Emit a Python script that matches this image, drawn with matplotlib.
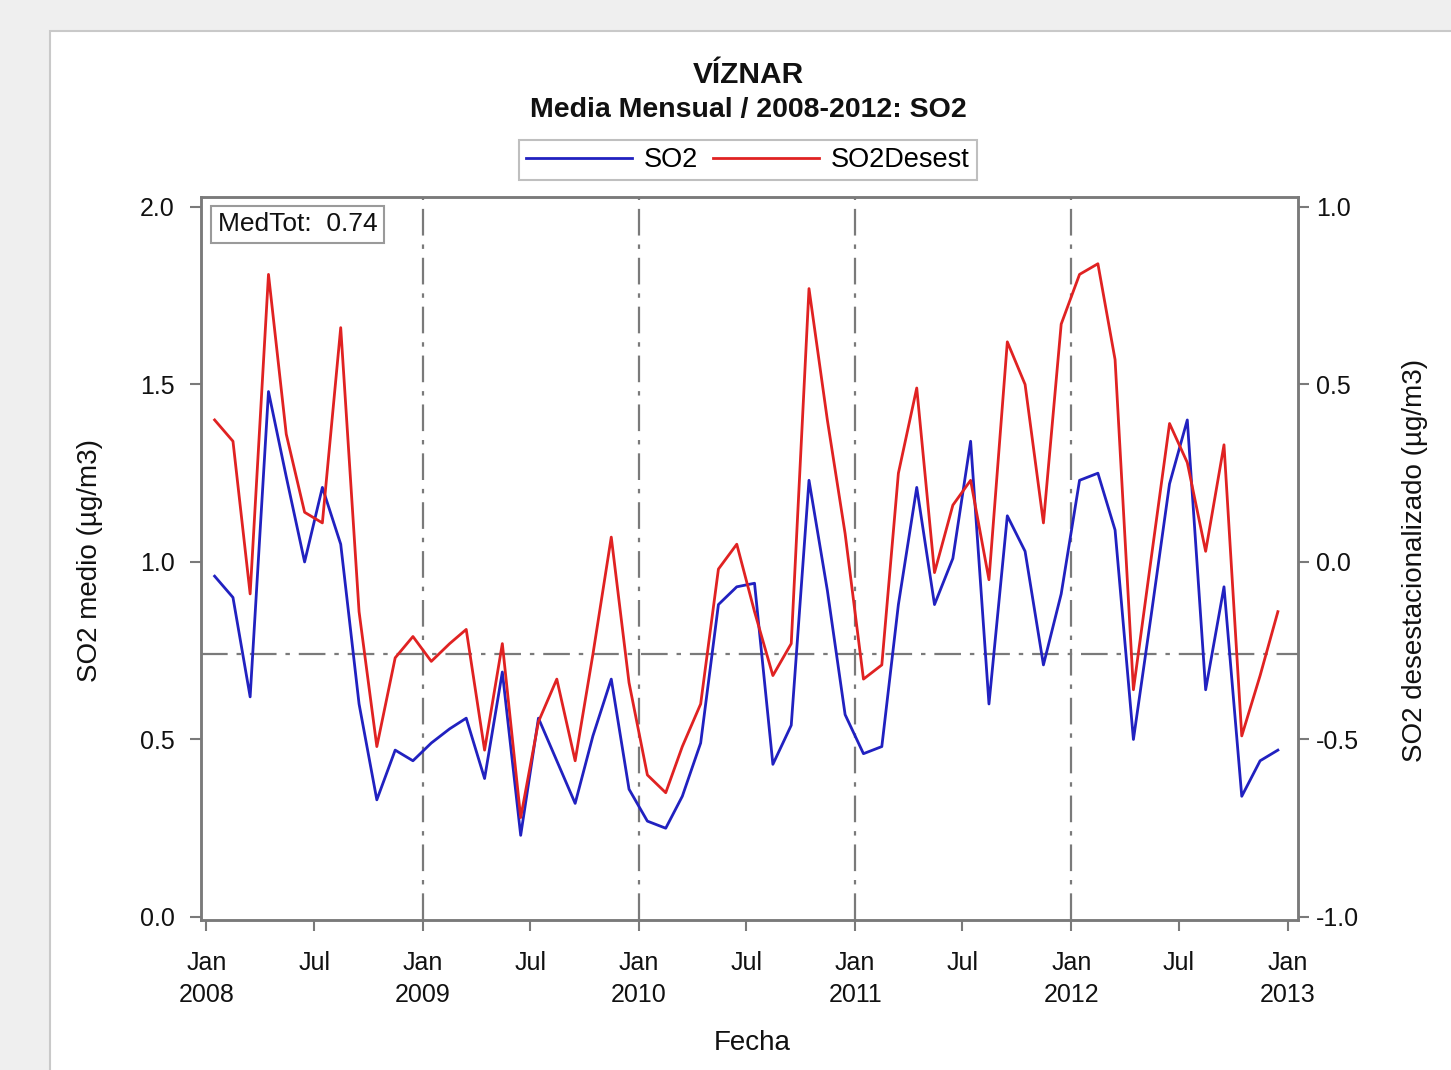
import matplotlib
matplotlib.use("Agg")
import matplotlib.pyplot as plt
import pandas as pd
from matplotlib.patches import Rectangle
from matplotlib.lines import Line2D

plt.rcParams["font.family"] = ["Liberation Sans", "DejaVu Sans"]

# Monthly means, Jan 2008 - Dec 2012 (values plotted mid-month)
dates = pd.date_range("2008-01-01", periods=60, freq="MS") + pd.Timedelta(days=14)

# SO2 monthly mean (µg/m3), left axis
so2 = [0.96, 0.90, 0.62, 1.48, 1.24, 1.00, 1.21, 1.05, 0.60, 0.33, 0.47, 0.44,
       0.49, 0.53, 0.56, 0.39, 0.69, 0.23, 0.56, 0.44, 0.32, 0.51, 0.67, 0.36,
       0.27, 0.25, 0.34, 0.49, 0.88, 0.93, 0.94, 0.43, 0.54, 1.23, 0.92, 0.57,
       0.46, 0.48, 0.88, 1.21, 0.88, 1.01, 1.34, 0.60, 1.13, 1.03, 0.71, 0.91,
       1.23, 1.25, 1.09, 0.50, 0.85, 1.22, 1.40, 0.64, 0.93, 0.34, 0.44, 0.47]

# Deseasonalised SO2 (µg/m3), right axis
so2_desest = [0.40, 0.34, -0.09, 0.81, 0.36, 0.14, 0.11, 0.66, -0.14, -0.52, -0.27, -0.21,
              -0.28, -0.23, -0.19, -0.53, -0.23, -0.72, -0.45, -0.33, -0.56, -0.26, 0.07, -0.34,
              -0.60, -0.65, -0.52, -0.40, -0.02, 0.05, -0.14, -0.32, -0.23, 0.77, 0.40, 0.08,
              -0.33, -0.29, 0.25, 0.49, -0.03, 0.16, 0.23, -0.05, 0.62, 0.50, 0.11, 0.67,
              0.81, 0.84, 0.57, -0.36, 0.01, 0.39, 0.28, 0.03, 0.33, -0.49, -0.32, -0.14]

med_tot = 0.74
year_marks = ["2009-01-01", "2010-01-01", "2011-01-01", "2012-01-01"]

x_ticks = ["2008-01-01", "2008-07-01", "2009-01-01", "2009-07-01", "2010-01-01",
           "2010-07-01", "2011-01-01", "2011-07-01", "2012-01-01", "2012-07-01",
           "2013-01-01"]
x_tick_labels = ["Jan\n2008", "Jul", "Jan\n2009", "Jul", "Jan\n2010", "Jul",
                 "Jan\n2011", "Jul", "Jan\n2012", "Jul", "Jan\n2013"]
left_ticks = [0.0, 0.5, 1.0, 1.5, 2.0]
right_ticks = [-1.0, -0.5, 0.0, 0.5, 1.0]

BLUE = "#2121c0"
RED = "#e02222"
GRAY = "#7a7a7a"
TXT = "#111111"
FS_TICK = 18
FS_LAB = 20

fig = plt.figure(figsize=(14.51, 10.70), dpi=100)
fig.patch.set_facecolor("#efefef")
panel = Rectangle((50 / 1451, -0.01), 1.0, (1070 - 31) / 1070 + 0.01,
                  transform=fig.transFigure, facecolor="white",
                  edgecolor="#c9c9c9", linewidth=1.5, zorder=-10)
fig.patches.append(panel)

ax = fig.add_axes([201 / 1451, 1 - 920 / 1070, (1298 - 201) / 1451, (920 - 197) / 1070])
ax.set_facecolor("white")
ax2 = ax.twinx()

# dash-dot reference lines: overall mean and year boundaries
dash_dot = (0, (12, 4, 2, 4))
ax.axhline(med_tot, color=GRAY, lw=1.6, linestyle=dash_dot, zorder=1)
for d in year_marks:
    ax.axvline(pd.Timestamp(d), color=GRAY, lw=1.6, linestyle=dash_dot, zorder=1)

ax.plot(dates, so2, color=BLUE, lw=2.0, zorder=3)
ax2.plot(dates, so2_desest, color=RED, lw=2.0, zorder=3)

ax.set_xlim(pd.Timestamp("2007-12-23"), pd.Timestamp("2013-01-18"))
ax.set_ylim(-0.0085, 2.028)
ax2.set_ylim(-1.0085, 1.028)

ax.set_xticks([pd.Timestamp(t) for t in x_ticks])
ax.set_xticklabels(x_tick_labels, fontsize=FS_TICK, linespacing=1.47)
ax.set_yticks(left_ticks)
ax.set_yticklabels([f"{v:.1f}" for v in left_ticks], fontsize=FS_TICK)
ax2.set_yticks(right_ticks)
ax2.set_yticklabels([f"{v:.1f}" for v in right_ticks], fontsize=FS_TICK)

for a in (ax, ax2):
    a.tick_params(direction="out", length=8, width=1.5, color=GRAY, labelcolor=TXT)
    for s in a.spines.values():
        s.set_color(GRAY)
        s.set_linewidth(1.8)
ax.tick_params(axis="x", pad=14)
ax.tick_params(axis="y", pad=11)
ax2.tick_params(axis="y", pad=5)

fig.text(90 / 1451, 1 - 560 / 1070, "SO2 medio (µg/m3)", rotation=90,
         ha="center", va="center", fontsize=FS_LAB, color=TXT)
fig.text(1415 / 1451, 1 - 560 / 1070, "SO2 desestacionalizado (µg/m3)", rotation=90,
         ha="center", va="center", fontsize=FS_LAB, color=TXT)
fig.text(752 / 1451, 1 - 1043 / 1070, "Fecha", ha="center", va="center",
         fontsize=FS_LAB, color=TXT)

fig.text(748 / 1451, 1 - 75 / 1070, "VÍZNAR", ha="center", va="center",
         fontsize=21.5, fontweight="bold", color=TXT)
fig.text(748 / 1451, 1 - 110 / 1070, "Media Mensual / 2008-2012: SO2", ha="center",
         va="center", fontsize=20.5, fontweight="bold", color=TXT)

ax.text(0.0155, 0.962, f"MedTot:  {med_tot:.2f}", transform=ax.transAxes,
        ha="left", va="center", fontsize=19, color=TXT, zorder=5,
        bbox=dict(boxstyle="square,pad=0.25", facecolor="white", edgecolor="#9a9a9a", lw=1.5))

handles = [Line2D([], [], color=BLUE, lw=2.0), Line2D([], [], color=RED, lw=2.0)]
leg = fig.legend(handles, ["SO2", "SO2Desest"], loc="center",
                 bbox_to_anchor=(748 / 1451, 1 - 160 / 1070), ncol=2, fontsize=19.5,
                 frameon=True, fancybox=False, edgecolor="#b0b0b0",
                 handlelength=3.9, handletextpad=0.45, columnspacing=0.55,
                 borderpad=0.25)
leg.get_frame().set_linewidth(1.5)

fig.savefig("out.png", dpi=100, facecolor=fig.get_facecolor())
